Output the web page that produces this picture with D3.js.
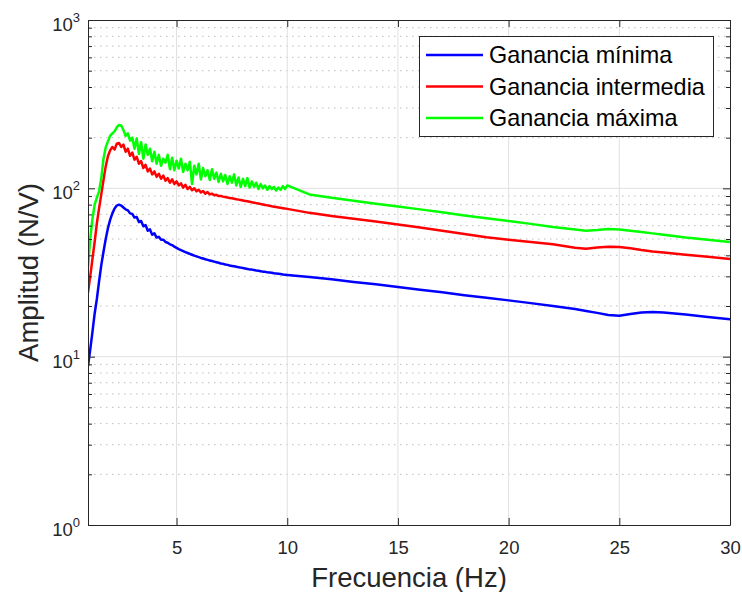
<!DOCTYPE html>
<html>
<head>
<meta charset="utf-8">
<script src="https://cdn.jsdelivr.net/npm/d3@7"></script>
<style>
  body { margin: 0; background: #fff; }
  svg { display: block; font-family: "Liberation Sans", Arial, sans-serif; }
</style>
</head>
<body>
<svg width="742" height="592"></svg>
<script>
var width = 742;
var height = 592;

// Data (frequency in Hz, amplitude in N/V)
var freq = [1.0, 1.1, 1.2, 1.3, 1.4, 1.5, 1.6, 1.7, 1.8, 1.9,
            2.0, 2.1, 2.2, 2.3, 2.4, 2.5, 2.6, 2.7, 2.8, 2.9,
            3.0, 3.1, 3.2, 3.3, 3.4, 3.5, 3.6, 3.7, 3.8, 3.9,
            4.0, 4.1, 4.2, 4.3, 4.4, 4.5, 4.6, 4.7, 4.8, 4.9,
            5.0, 5.1, 5.2, 5.3, 5.4, 5.5, 5.6, 5.7, 5.8, 5.9,
            6.0, 6.1, 6.2, 6.3, 6.4, 6.5, 6.6, 6.7, 6.8, 6.9,
            7.0, 7.1, 7.2, 7.3, 7.4, 7.5, 7.6, 7.7, 7.8, 7.9,
            8.0, 8.1, 8.2, 8.3, 8.4, 8.5, 8.6, 8.7, 8.8, 8.9,
            9.0, 9.1, 9.2, 9.3, 9.4, 9.5, 9.6, 9.7, 9.8, 9.9,
            10, 11, 12, 13, 14, 15, 16, 17, 18, 19, 20, 21, 22,
            22.5, 23, 23.5, 24, 24.5, 25, 25.5, 26, 26.5, 27, 28, 29, 30];

var gananciaMinima = [8.8, 11, 14, 18, 22, 28, 35, 42, 50, 58,
            65, 71, 76, 79, 80, 79, 77, 75, 74, 71,
            70.5, 67, 67.5, 63, 64, 59.5, 60.5, 56, 57, 53,
            54, 51, 51.5, 49.5, 49.5, 48, 47.5, 46.5, 46, 45,
            44.3, 43.6, 43, 42.4, 41.8, 41.3, 40.8, 40.3, 39.8, 39.4,
            39, 38.6, 38.3, 37.9, 37.6, 37.3, 37, 36.7, 36.4, 36.1,
            35.8, 35.6, 35.3, 35.1, 34.8, 34.6, 34.4, 34.2, 34, 33.8,
            33.6, 33.4, 33.2, 33, 32.9, 32.7, 32.5, 32.4, 32.2, 32,
            31.9, 31.7, 31.6, 31.5, 31.3, 31.2, 31.1, 31, 30.8, 30.7,
            30.6, 29.7, 28.8, 27.8, 26.9, 25.9, 25, 24.1, 23.2, 22.4, 21.6, 20.8, 20,
            19.6, 19.2, 18.7, 18.2, 17.7, 17.5, 17.9, 18.3, 18.4, 18.3, 17.8, 17.2, 16.7];

var gananciaIntermedia = [24, 30, 38, 48, 62, 76, 92, 112, 135, 155,
            168, 176, 170, 184, 186, 176, 182, 165, 172, 156,
            163, 148, 154, 140, 145, 132, 138, 126, 131, 121,
            126, 117, 122, 114, 119, 111, 115, 108, 113, 106,
            110, 104, 107, 101, 105, 99, 102, 97.5, 100, 96,
            98, 94.5, 96.5, 93, 95, 92, 93, 91, 91.5, 90,
            90, 89.3, 88.8, 88.2, 87.7, 87.2, 86.7, 86.2, 85.7, 85.2,
            84.7, 84.2, 83.7, 83.2, 82.7, 82.2, 81.7, 81.2, 80.7, 80.2,
            79.7, 79.2, 78.7, 78.2, 77.8, 77.4, 77, 76.6, 76.2, 75.8,
            75.5, 71.5, 68.5, 66, 63.5, 61, 58.5, 56, 53.5, 51.2, 49.5, 48, 46.5,
            45.5, 44.3, 43.8, 44.5, 45, 44.8, 44, 43, 42.2, 41.6, 40.3, 39.2, 38];

var gananciaMaxima = [34, 50, 66, 80, 88, 96, 115, 150, 175, 190,
            205, 212, 218, 230, 238, 236, 222, 205, 212, 192,
            200, 172, 198, 160, 188, 150, 182, 158, 172, 145,
            165, 140, 158, 136, 150, 142, 158, 130, 152, 128,
            146, 131, 150, 125, 140, 128, 144, 106, 136, 121,
            140, 113, 132, 118, 128, 112, 130, 114, 124, 109,
            122, 110, 120, 106, 118, 108, 121, 104, 116, 102,
            114, 103, 115, 101, 110, 102, 108, 99, 106, 100,
            104, 98, 103, 99, 102, 97, 101, 98, 103, 99,
            104, 92, 88, 84.5, 81, 78, 75, 72, 69, 66.5, 64, 61.5, 59,
            58, 57, 56, 56.5, 57.3, 57, 56, 55, 54, 53, 51, 49.5, 48];

var seriesNames = ['Ganancia mínima', 'Ganancia intermedia', 'Ganancia máxima'];
var seriesColors = ['#0000ff', '#ff0000', '#00ff00'];
var xTicks = [5, 10, 15, 20, 25, 30];
var yMajor = [1, 10, 100, 1000];
var yExponents = ['0', '1', '2', '3'];

var series = [gananciaMinima, gananciaIntermedia, gananciaMaxima];

var plotLeft = 88, plotRight = 730, plotTop = 20, plotBottom = 525;
var axisColor = '#262626';

// Scales
var xScale = d3.scaleLinear()
                .domain([1, 30])
                .range([plotLeft, plotRight]);

var yScale = d3.scaleLog()
                .domain([1, 1000])
                .range([plotBottom, plotTop]);

var yMinor = [];
[1, 10, 100].forEach(function(d) {
    for (var k = 2; k <= 9; k++) yMinor.push(d * k);
});

var svg = d3.select('svg');

svg.append('defs')
    .append('clipPath')
    .attr('id', 'plotclip')
    .append('rect')
        .attr('x', plotLeft)
        .attr('y', plotTop)
        .attr('width', plotRight - plotLeft)
        .attr('height', plotBottom - plotTop);

// Grid

var grid = svg.append('g');

grid.selectAll('.ygridminor')
    .data(yMinor)
    .enter()
    .append('line')
        .attr('x1', plotLeft)
        .attr('x2', plotRight)
        .attr('y1', d => yScale(d))
        .attr('y2', d => yScale(d))
        .attr('stroke', '#bdbdbd')
        .attr('stroke-width', 1)
        .attr('stroke-dasharray', '1.5,4.5');

grid.selectAll('.xgrid')
    .data(xTicks.slice(0, -1))
    .enter()
    .append('line')
        .attr('x1', d => xScale(d))
        .attr('x2', d => xScale(d))
        .attr('y1', plotTop)
        .attr('y2', plotBottom)
        .attr('stroke', '#e0e0e0')
        .attr('stroke-width', 1);

grid.selectAll('.ygrid')
    .data(yMajor.slice(1, -1))
    .enter()
    .append('line')
        .attr('x1', plotLeft)
        .attr('x2', plotRight)
        .attr('y1', d => yScale(d))
        .attr('y2', d => yScale(d))
        .attr('stroke', '#e0e0e0')
        .attr('stroke-width', 1);

// Lines

var line = d3.line()
    .x((d, i) => xScale(freq[i]))
    .y(d => yScale(d));

svg.append('g')
    .attr('clip-path', 'url(#plotclip)')
    .selectAll('path')
    .data(series)
    .enter()
    .append('path')
        .attr('d', line)
        .attr('fill', 'none')
        .attr('stroke', (d, i) => seriesColors[i])
        .attr('stroke-width', 2.5)
        .attr('stroke-linejoin', 'round');

// Axes (ticks point inward, box on)

function styleAxis(g) {
    g.selectAll('.domain').attr('stroke', axisColor);
    g.selectAll('.tick line').attr('stroke', axisColor);
    g.selectAll('text')
        .attr('fill', axisColor)
        .style('font-family', '"Liberation Sans", Arial, sans-serif')
        .style('font-size', '18.5px');
}

var xAxis = d3.axisBottom(xScale)
                .tickValues(xTicks)
                .tickSize(-7)
                .tickSizeOuter(0)
                .tickPadding(16);

svg.append('g')
    .attr('transform', 'translate(0,' + plotBottom + ')')
    .call(xAxis)
    .call(styleAxis);

svg.append('g')
    .attr('transform', 'translate(0,' + plotTop + ')')
    .call(d3.axisTop(xScale).tickValues(xTicks).tickSize(-7).tickSizeOuter(0).tickFormat(''))
    .call(styleAxis);

svg.append('g')
    .attr('transform', 'translate(' + plotLeft + ',0)')
    .call(d3.axisLeft(yScale).tickValues(yMajor).tickSize(-7).tickSizeOuter(0).tickFormat(''))
    .call(styleAxis);

svg.append('g')
    .attr('transform', 'translate(' + plotLeft + ',0)')
    .call(d3.axisLeft(yScale).tickValues(yMinor).tickSize(-4).tickFormat(''))
    .call(g => g.select('.domain').remove())
    .call(styleAxis);

svg.append('g')
    .attr('transform', 'translate(' + plotRight + ',0)')
    .call(d3.axisRight(yScale).tickValues(yMajor).tickSize(-7).tickSizeOuter(0).tickFormat(''))
    .call(styleAxis);

svg.append('g')
    .attr('transform', 'translate(' + plotRight + ',0)')
    .call(d3.axisRight(yScale).tickValues(yMinor).tickSize(-4).tickFormat(''))
    .call(g => g.select('.domain').remove())
    .call(styleAxis);

// Y tick labels 10^n

var yLabels = svg.append('g')
    .selectAll('text')
    .data(yMajor)
    .enter()
    .append('text')
        .attr('x', plotLeft - 8)
        .attr('y', d => yScale(d) + 11)
        .attr('text-anchor', 'end')
        .attr('fill', axisColor)
        .style('font-size', '18.5px');

yLabels.append('tspan').text('10');
yLabels.append('tspan')
    .attr('dy', -9)
    .style('font-size', '13px')
    .text((d, i) => yExponents[i]);

// Axis titles

svg.append('text')
    .attr('x', (plotLeft + plotRight) / 2)
    .attr('y', 587)
    .attr('text-anchor', 'middle')
    .attr('fill', axisColor)
    .style('font-size', '27.5px')
    .text('Frecuencia (Hz)');

svg.append('text')
    .attr('transform', 'rotate(-90)')
    .attr('x', -(plotTop + plotBottom) / 2)
    .attr('y', 38)
    .attr('text-anchor', 'middle')
    .attr('fill', axisColor)
    .style('font-size', '27.5px')
    .text('Amplitud (N/V)');

// Legend

var legend = svg.append('g');

legend.append('rect')
    .attr('x', 419.5)
    .attr('y', 36.5)
    .attr('width', 294)
    .attr('height', 100)
    .attr('fill', '#fff')
    .attr('stroke', axisColor)
    .attr('stroke-width', 1);

var entries = legend.selectAll('.entry')
    .data(seriesNames)
    .enter()
    .append('g')
        .attr('transform', (d, i) => 'translate(0,' + (55 + i * 31.5) + ')');

entries.append('line')
    .attr('x1', 426)
    .attr('x2', 483)
    .attr('stroke', (d, i) => seriesColors[i])
    .attr('stroke-width', 2.5);

entries.append('text')
    .attr('x', 489)
    .attr('dy', '0.36em')
    .attr('fill', '#000')
    .style('font-size', '23.4px')
    .text(d => d);
</script>
</body>
</html>
